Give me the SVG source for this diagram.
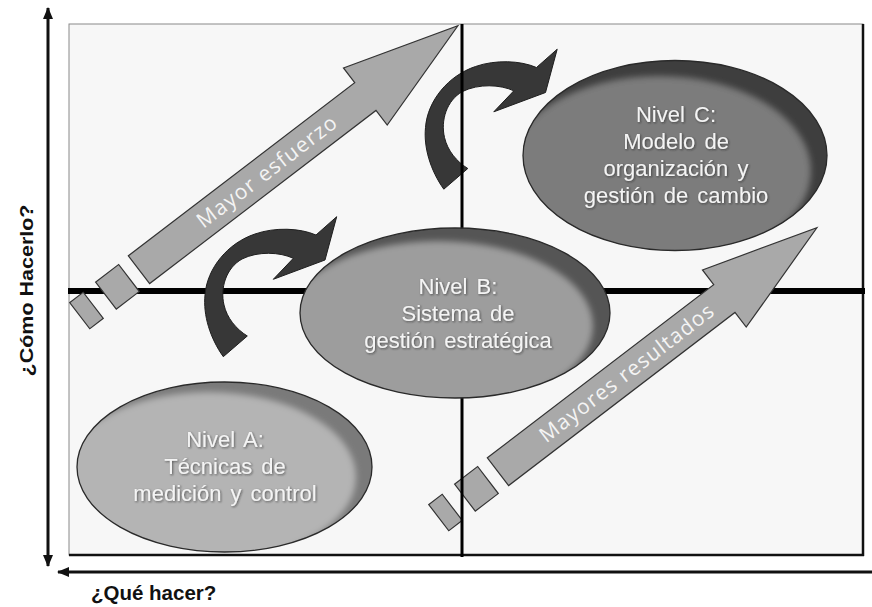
<svg xmlns="http://www.w3.org/2000/svg" width="872" height="607" viewBox="0 0 872 607">
<style>
.lbl{font-family:"Liberation Sans",Arial,sans-serif;font-size:22px;fill:#f4f4f4;text-anchor:middle;word-spacing:3px;filter:url(#tsh)}
.arr{fill:#a9a9a9;stroke:#333;stroke-width:1.2}
.curv{fill:#373737;stroke:#1e1e1e;stroke-width:1}
.atxt{font-family:"Open Sans","Liberation Sans",sans-serif;font-size:21px;fill:#f4f4f4;text-anchor:middle}
.axl{font-family:"Liberation Sans",Arial,sans-serif;font-weight:bold;fill:#111}
.ol{fill:none;stroke:#2a2a2a;stroke-width:1.3}
</style>
<defs>
<filter id="blur" x="-20%" y="-20%" width="140%" height="140%"><feGaussianBlur stdDeviation="3"/></filter>
<filter id="tsh" x="-10%" y="-30%" width="120%" height="160%"><feDropShadow dx="1" dy="1" stdDeviation="1" flood-color="#222" flood-opacity="0.6"/></filter>
<marker id="ah" viewBox="0 0 12 10" refX="11" refY="5" markerWidth="12" markerHeight="10" markerUnits="userSpaceOnUse" orient="auto-start-reverse"><path d="M0,0 L12,5 L0,10 Z" fill="#111"/></marker>
<clipPath id="cA"><ellipse cx="224.5" cy="467" rx="147.5" ry="85"/></clipPath>
<clipPath id="cB"><ellipse cx="455" cy="313" rx="155" ry="85"/></clipPath>
<clipPath id="cC"><ellipse cx="675" cy="155.5" rx="152" ry="95"/></clipPath>
<path id="sarrow" d="M0,-17.5 L285,-17.5 L285,-36 L401.5,0 L285,36 L285,17.5 L0,17.5 Z"/>
<path id="curve" d="M223.3,356.7 C210,338 203,315 205,295 C207,268 228,243 255,234 C275,227 300,228 316,235 L336.7,216.7 L325,260 L273.3,279.3 L293.3,258.3 C280,252 258,251 242,259 C226,268 220,288 224,305 C227,318 236,329 247.3,336 Z"/>
</defs>

<g id="frame">
<rect x="69" y="24" width="794" height="531" fill="#f7f7f7" stroke="#8a8a8a" stroke-width="1"/>
<line x1="863" y1="24" x2="863" y2="556" stroke="#111" stroke-width="2.5"/>
<line x1="69" y1="555" x2="864" y2="555" stroke="#111" stroke-width="2.5"/>
<line x1="68" y1="291" x2="865" y2="291" stroke="#000" stroke-width="6"/>
</g>

<g id="connectors">
<g id="arrow-esfuerzo" transform="translate(139,269.7) rotate(-37.42)">
<rect class="arr" x="-75" y="-16" width="17" height="33"/>
<rect class="arr" x="-42" y="-16.5" width="29" height="34"/>
<use href="#sarrow" class="arr"/>
<text class="atxt" x="161" y="7" textLength="170" lengthAdjust="spacing">Mayor esfuerzo</text>
</g>
<g id="arrow-resultados" transform="translate(498,471.7) rotate(-37.42)">
<rect class="arr" x="-75" y="-16" width="17" height="33"/>
<rect class="arr" x="-42" y="-16.5" width="29" height="34"/>
<use href="#sarrow" class="arr"/>
<text class="atxt" x="162" y="7" textLength="213" lengthAdjust="spacing">Mayores resultados</text>
</g>
<use id="curve-AB" href="#curve" class="curv"/>
<use id="curve-BC" href="#curve" class="curv" transform="translate(220.5,-167.5)"/>
</g>

<line id="vline" x1="462" y1="24" x2="462" y2="557" stroke="#000" stroke-width="3"/>

<g id="node-A">
<ellipse cx="224.5" cy="467" rx="147.5" ry="85" fill="#7a7a7a"/>
<g clip-path="url(#cA)"><ellipse cx="208.5" cy="477" rx="147.5" ry="85" fill="#b4b4b4" filter="url(#blur)"/></g>
<ellipse class="ol" cx="224.5" cy="467" rx="147.5" ry="85"/>
<text class="lbl" x="225" y="447">Nivel A:</text>
<text class="lbl" x="225" y="474">Técnicas de</text>
<text class="lbl" x="225" y="501">medición y control</text>
</g>

<g id="node-B">
<ellipse cx="455" cy="313" rx="155" ry="85" fill="#555555"/>
<g clip-path="url(#cB)"><ellipse cx="438" cy="326" rx="155" ry="85" fill="#9d9d9d" filter="url(#blur)"/></g>
<ellipse class="ol" cx="455" cy="313" rx="155" ry="85"/>
<text class="lbl" x="458" y="294">Nivel B:</text>
<text class="lbl" x="458" y="321">Sistema de</text>
<text class="lbl" x="458" y="348">gestión estratégica</text>
</g>

<g id="node-C">
<ellipse cx="675" cy="155.5" rx="152" ry="95" fill="#3e3e3e"/>
<g clip-path="url(#cC)"><ellipse cx="659" cy="171" rx="152" ry="95" fill="#7b7b7b" filter="url(#blur)"/></g>
<ellipse class="ol" cx="675" cy="155.5" rx="152" ry="95"/>
<text class="lbl" x="676" y="122">Nivel C:</text>
<text class="lbl" x="676" y="149">Modelo de</text>
<text class="lbl" x="676" y="176">organización y</text>
<text class="lbl" x="676" y="203">gestión de cambio</text>
</g>

<g id="axes">
<line x1="48" y1="8" x2="48" y2="566" stroke="#111" stroke-width="3" marker-start="url(#ah)" marker-end="url(#ah)"/>
<line x1="872" y1="572" x2="58" y2="572" stroke="#111" stroke-width="3" marker-end="url(#ah)"/>
<text class="axl" font-size="19" transform="translate(33,290.5) rotate(-90)" text-anchor="middle" textLength="172" lengthAdjust="spacingAndGlyphs">¿Cómo Hacerlo?</text>
<text class="axl" font-size="20.5" x="91" y="600">¿Qué hacer?</text>
</g>
</svg>
